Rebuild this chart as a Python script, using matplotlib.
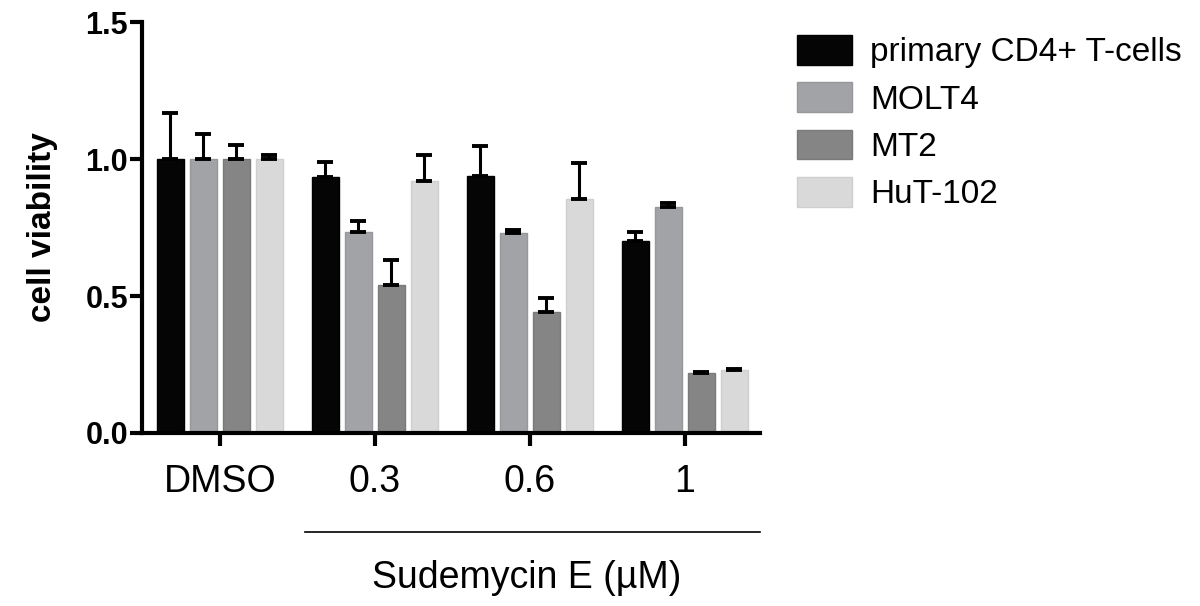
import numpy as np
import matplotlib
matplotlib.use('Agg')
import matplotlib.pyplot as plt

plt.rcParams['font.family'] = ['Liberation Sans', 'DejaVu Sans']

doses = ['DMSO', '0.3', '0.6', '1']
series = ['primary CD4+ T-cells', 'MOLT4', 'MT2', 'HuT-102']

cd4 = [1.00, 0.935, 0.938, 0.70]
molt4 = [1.00, 0.735, 0.73, 0.825]
mt2 = [1.00, 0.54, 0.44, 0.22]
hut = [1.00, 0.92, 0.855, 0.23]

cd4_err = [0.17, 0.055, 0.11, 0.033]
molt4_err = [0.09, 0.04, 0.012, 0.015]
mt2_err = [0.05, 0.09, 0.052, 0.004]
hut_err = [0.015, 0.095, 0.13, 0.005]

colors = ['#050505', '#a2a3a7', '#858585', '#d9d9d9']
edges = ['#000000', '#97989c', '#7a7a7a', '#cfcfcf']

fig = plt.figure(figsize=(12, 6.06), dpi=100)
ax = fig.add_axes([0.1183, 0.2855, 0.515, 0.678])

x = np.arange(len(doses))
step = 0.213
width = 0.172
vals = [cd4, molt4, mt2, hut]
errs = [cd4_err, molt4_err, mt2_err, hut_err]
for i in range(4):
    pos = x + (i - 1.5) * step
    e = np.array(errs[i])
    ax.bar(pos, vals[i], width, color=colors[i], edgecolor=edges[i], linewidth=1,
           label=series[i], zorder=2)
    ax.errorbar(pos, vals[i], yerr=[np.zeros_like(e), e], fmt='none', ecolor='black',
                elinewidth=2.2, capsize=5.5, capthick=2.8, zorder=3)

ax.set_xlim(-0.503, 3.484)
ax.set_ylim(0, 1.5)
ax.set_yticks([0.0, 0.5, 1.0, 1.5])
ax.set_yticklabels(['0.0', '0.5', '1.0', '1.5'], fontsize=22, fontweight='bold')
ax.set_xticks(x)
ax.set_xticklabels(doses, fontsize=27)
ax.tick_params(axis='y', length=9, width=3, pad=1)
ax.tick_params(axis='x', length=9, width=3, pad=13)

for s in ['top', 'right']:
    ax.spines[s].set_visible(False)
for s in ['left', 'bottom']:
    ax.spines[s].set_linewidth(3)

ax.set_ylabel('cell viability', fontsize=24, fontweight='bold', labelpad=20)

# bracket for the sudemycin doses
fig.add_artist(plt.Line2D([305 / 1200, 760 / 1200], [1 - 532 / 606, 1 - 532 / 606],
                          color='black', linewidth=1.2))
fig.text(527 / 1200, 1 - 578 / 606, 'Sudemycin E (µM)', fontsize=27,
         ha='center', va='center')

ax.legend(loc='upper left', bbox_to_anchor=(797 / 1200, 1 - 35 / 606),
          bbox_transform=fig.transFigure, frameon=False, fontsize=24,
          handlelength=1.65, handleheight=1.0, handletextpad=0.54,
          labelspacing=0.42, borderpad=0, borderaxespad=0)

plt.savefig('out.png', dpi=100)
